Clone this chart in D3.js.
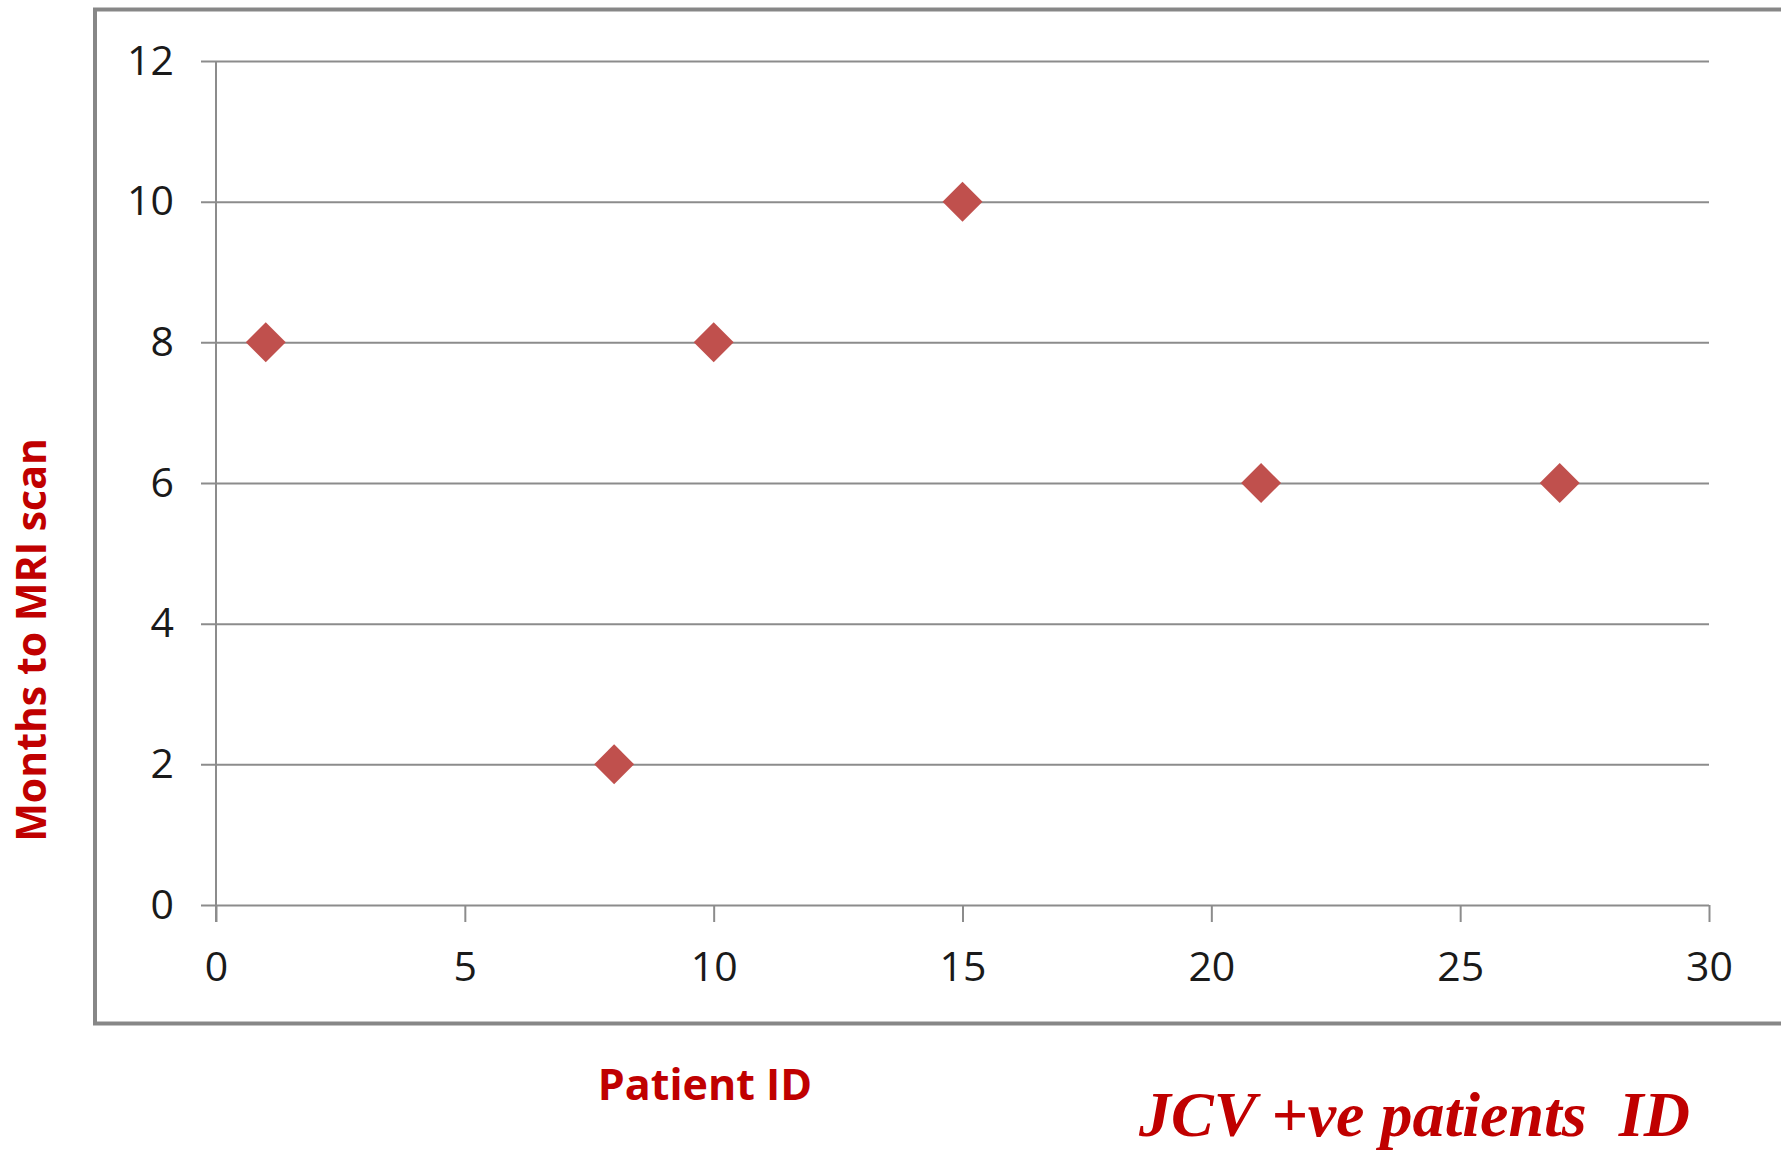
<!DOCTYPE html>
<html>
<head>
<meta charset="utf-8">
<script src="https://cdn.jsdelivr.net/npm/d3@7"></script>
<style>
  body { margin: 0; background: #fff; }
  .tick text { font-family: 'Open Sans', sans-serif; fill: #1a1a1a; }
</style>
</head>
<body>
<div id="display"></div>
<script>
// data
let patientIds = [1, 8, 10, 15, 21, 27];
let monthsToScan = [8, 2, 8, 10, 6, 6];
let xTicks = [0, 5, 10, 15, 20, 25, 30];
let yTicks = [0, 2, 4, 6, 8, 10, 12];

let data = patientIds.map((id, i) => ({id: id, months: monthsToScan[i]}));

// dimensions and margins of the graph
let W = 1781, H = 1154;
let margin = {top: 61, right: 72, bottom: 249, left: 216};
let width = W - margin.left - margin.right;
let height = H - margin.top - margin.bottom;

let root = d3.select('#display')
  .append('svg')
    .attr('width', W)
    .attr('height', H);

// outer frame (runs off the right edge like the original)
root.append('rect')
  .attr('x', 95)
  .attr('y', 9.5)
  .attr('width', 1800)
  .attr('height', 1014)
  .attr('fill', 'none')
  .attr('stroke', '#878787')
  .attr('stroke-width', 4);

let svg = root.append('g')
  .attr('transform', 'translate(' + margin.left + ',' + margin.top + ')');

let xScale = d3.scaleLinear().domain([0, 30]).range([0, width]);
let yScale = d3.scaleLinear().domain([0, 12]).range([height, 0]);

// horizontal gridlines + y axis
let yAxis = svg.append('g')
  .call(d3.axisLeft(yScale)
    .tickValues(yTicks)
    .tickSize(-width)
    .tickPadding(42)
    .tickFormat(d3.format('d')));
yAxis.select('.domain').remove();
yAxis.selectAll('.tick line')
  .attr('x1', -15)
  .attr('stroke', '#8c8c8c')
  .attr('stroke-width', 2);
yAxis.selectAll('.tick text')
  .attr('font-size', 41);

// vertical axis line, runs past the x axis down to the tick length
svg.append('line')
  .attr('x1', 0).attr('x2', 0)
  .attr('y1', 0).attr('y2', height + 17)
  .attr('stroke', '#8c8c8c')
  .attr('stroke-width', 2);

let xAxis = svg.append('g')
  .attr('transform', 'translate(0,' + height + ')')
  .call(d3.axisBottom(xScale)
    .tickValues(xTicks)
    .tickSize(17)
    .tickPadding(30)
    .tickFormat(d3.format('d')));
xAxis.select('.domain').remove();
xAxis.selectAll('.tick line')
  .attr('stroke', '#8c8c8c')
  .attr('stroke-width', 2);
xAxis.selectAll('.tick text')
  .attr('font-size', 41);

// points
svg.append('g')
  .selectAll('path')
  .data(data)
  .join('path')
    .attr('d', d3.symbol().type(d3.symbolSquare).size(800))
    .attr('transform', d => 'translate(' + xScale(d.id) + ',' + yScale(d.months) + ') rotate(45)')
    .attr('fill', '#c0504d');

// axis titles
root.append('text')
  .attr('transform', 'translate(46,640) rotate(-90)')
  .attr('text-anchor', 'middle')
  .attr('font-family', 'Open Sans, sans-serif')
  .attr('font-weight', 'bold')
  .attr('font-size', 41)
  .attr('fill', '#c00000')
  .text('Months to MRI scan');

root.append('text')
  .attr('x', 705)
  .attr('y', 1100)
  .attr('text-anchor', 'middle')
  .attr('font-family', 'Open Sans, sans-serif')
  .attr('font-weight', 'bold')
  .attr('font-size', 43)
  .attr('fill', '#c00000')
  .text('Patient ID');

root.append('text')
  .attr('x', 1139)
  .attr('y', 1136)
  .attr('font-family', 'Liberation Serif, serif')
  .attr('font-weight', 'bold')
  .attr('font-style', 'italic')
  .attr('font-size', 64)
  .attr('fill', '#c00000')
  .attr('xml:space', 'preserve')
  .text('JCV +ve patients  ID');
</script>
</body>
</html>
